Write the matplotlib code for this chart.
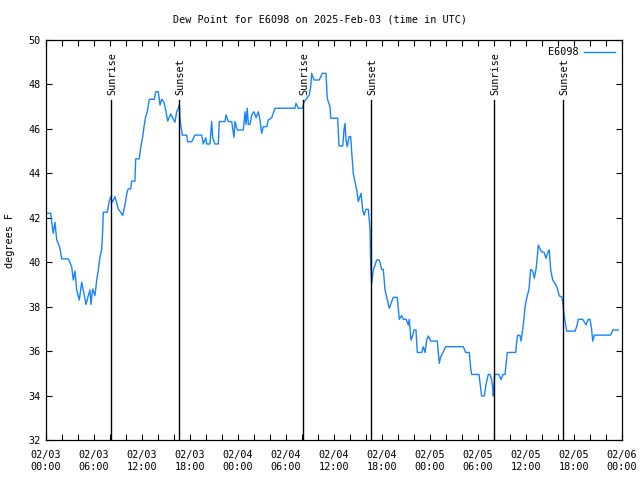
import numpy as np
import matplotlib
matplotlib.use("Agg")
import matplotlib.pyplot as plt

# dew point readings, hours since 2025-02-03 00:00 UTC
hours = [0.0, 0.59, 0.71, 0.91, 1.12, 1.34, 1.54, 1.75, 1.96, 2.79,
         3.21, 3.41, 3.62, 3.84, 4.16, 4.46, 4.66, 5.0, 5.29, 5.5,
         5.62, 5.84, 6.12, 6.34, 6.54, 6.75, 6.96, 7.09, 7.16, 7.66,
         7.88, 8.09, 8.29, 8.62, 9.04, 9.59, 9.88, 10.16, 10.29, 10.59,
         10.71, 11.12, 11.21, 11.66, 11.84, 12.09, 12.25, 12.46, 12.66, 12.91,
         13.54, 13.71, 14.04, 14.25, 14.46, 14.75, 15.0, 15.21, 15.59, 15.84,
         16.12, 16.34, 16.54, 16.66, 16.75, 17.04, 17.59, 17.71, 18.21, 18.62,
         19.46, 19.66, 19.96, 20.09, 20.5, 20.71, 20.84, 21.12, 21.54, 21.66,
         22.38, 22.5, 22.79, 23.21, 23.34, 23.5, 23.62, 23.91, 24.66, 24.88,
         25.0, 25.16, 25.29, 25.5, 25.71, 26.0, 26.25, 26.54, 26.75, 26.96,
         27.16, 27.59, 27.79, 28.21, 28.62, 31.12, 31.25, 31.54, 32.09, 32.25,
         32.59, 32.91, 33.09, 33.21, 33.5, 34.16, 34.54, 35.0, 35.16, 35.5,
         35.59, 36.46, 36.62, 37.09, 37.25, 37.38, 37.5, 37.66, 37.88, 38.09,
         38.21, 38.41, 38.62, 38.84, 39.04, 39.25, 39.38, 39.59, 39.75, 40.0,
         40.29, 40.5, 40.59, 40.71, 40.91, 41.34, 41.66, 41.96, 42.16, 42.38,
         42.59, 42.91, 43.21, 43.41, 43.91, 44.16, 44.46, 44.66, 45.0, 45.29,
         45.41, 45.62, 45.84, 46.0, 46.25, 46.41, 46.96, 47.16, 47.38, 47.59,
         47.79, 48.09, 48.91, 49.09, 49.16, 49.34, 49.66, 49.96, 52.16, 52.46,
         52.91, 53.09, 53.21, 54.12, 54.46, 54.79, 55.0, 55.29, 55.5, 55.71,
         55.84, 55.91, 56.09, 56.59, 56.88, 57.12, 57.38, 57.59, 57.66, 58.71,
         58.84, 58.96, 59.25, 59.38, 59.59, 59.75, 59.88, 60.09, 60.29, 60.41,
         60.5, 60.59, 60.84, 61.04, 61.25, 61.34, 61.54, 61.75, 61.96, 62.25,
         62.5, 62.79, 62.91, 63.09, 63.34, 63.62, 63.91, 64.16, 64.46, 64.59,
         64.75, 65.0, 65.09, 66.12, 66.34, 66.54, 67.09, 67.5, 67.79, 68.0,
         68.21, 68.34, 68.54, 70.59, 70.84, 71.54]
dewpt = [42.2, 42.2, 41.8, 41.3, 41.8, 41.0, 40.85, 40.6, 40.15, 40.15,
         39.8, 39.2, 39.6, 38.75, 38.3, 39.1, 38.75, 38.1, 38.5, 38.75,
         38.1, 38.8, 38.5, 39.2, 39.65, 40.25, 40.55, 41.45, 42.25, 42.25,
         42.7, 42.95, 42.7, 42.95, 42.4, 42.1, 42.6, 43.2, 43.3, 43.3,
         43.65, 43.65, 44.65, 44.65, 45.17, 45.65, 46.1, 46.55, 46.77, 47.33,
         47.33, 47.67, 47.67, 47.07, 47.33, 47.2, 46.77, 46.35, 46.67, 46.5,
         46.3, 46.77, 46.93, 47.07, 46.4, 45.72, 45.72, 45.42, 45.42, 45.72,
         45.72, 45.32, 45.6, 45.32, 45.32, 46.33, 45.6, 45.32, 45.32, 46.33,
         46.33, 46.63, 46.33, 46.33, 46.02, 45.62, 46.33, 45.95, 45.95, 46.77,
         46.2, 46.93, 46.2, 46.2, 46.63, 46.77, 46.5, 46.77, 46.4, 45.8,
         46.1, 46.1, 46.4, 46.5, 46.93, 46.93, 47.15, 46.93, 46.93, 47.22,
         47.37, 47.52, 47.9, 48.5, 48.2, 48.2, 48.5, 48.5, 47.37, 47.0,
         46.48, 46.48, 45.23, 45.23, 45.95, 46.25, 45.5, 45.2, 45.65, 45.65,
         44.97, 44.0, 43.62, 43.25, 42.73, 42.95, 43.1, 42.35, 42.12, 42.38,
         42.38, 41.52, 39.87, 39.05, 39.65, 40.1, 40.1, 39.68, 39.68, 38.75,
         38.42, 37.93, 38.22, 38.42, 38.42, 37.43, 37.6, 37.43, 37.43, 37.18,
         37.43, 36.5, 36.7, 36.95, 36.95, 35.94, 35.94, 36.2, 35.94, 36.5,
         36.68, 36.45, 36.45, 35.75, 35.45, 35.75, 35.97, 36.2, 36.2, 35.94,
         35.94, 35.22, 34.95, 34.95, 33.98, 33.98, 34.5, 34.95, 34.95, 34.7,
         34.32, 33.98, 34.95, 34.95, 34.72, 34.95, 34.95, 35.67, 35.94, 35.94,
         36.42, 36.72, 36.7, 36.45, 36.98, 37.47, 38.0, 38.38, 38.67, 38.9,
         39.35, 39.68, 39.6, 39.28, 39.68, 39.95, 40.77, 40.6, 40.47, 40.45,
         40.18, 40.5, 40.55, 39.65, 39.2, 39.05, 38.83, 38.48, 38.45, 38.22,
         37.62, 37.1, 36.9, 36.9, 37.1, 37.43, 37.43, 37.18, 37.43, 37.43,
         36.95, 36.45, 36.72, 36.72, 36.95, 36.95]

sun_hours = [8.12, 16.62, 32.1, 40.64, 56.06, 64.65]
sun_labels = ["Sunrise", "Sunset", "Sunrise", "Sunset", "Sunrise", "Sunset"]

tick_hours = list(range(0, 73, 6))
tick_labels = ["02/03\n00:00", "02/03\n06:00", "02/03\n12:00", "02/03\n18:00",
               "02/04\n00:00", "02/04\n06:00", "02/04\n12:00", "02/04\n18:00",
               "02/05\n00:00", "02/05\n06:00", "02/05\n12:00", "02/05\n18:00",
               "02/06\n00:00"]

plt.rcParams['font.family'] = 'DejaVu Sans Mono'
plt.rcParams['font.size'] = 7.3

fig = plt.figure(figsize=(6.4, 4.8), dpi=100)
ax = fig.add_axes([46/640, 40/480, 576/640, 400/480])

ax.plot(hours, dewpt, color='#1684ff', lw=1.0, label='E6098')

# sunrise / sunset markers
for h, lab in zip(sun_hours, sun_labels):
    ax.plot([h, h], [32, 47.3], color='black', lw=1.0)
    ax.text(h + 0.15, 47.52, lab, rotation=90, ha='center', va='bottom')

ax.set_xlim(0, 72)
ax.set_ylim(32, 50)
ax.set_xticks(tick_hours)
ax.set_xticklabels(tick_labels, linespacing=1.3)
ax.set_xticks(np.arange(0, 73, 2), minor=True)
ax.set_yticks(np.arange(32, 51, 2))
ax.tick_params(which='both', direction='in', top=True, right=True,
               length=4, width=0.8, pad=4)
ax.tick_params(axis='x', which='major', pad=7)
for s in ax.spines.values():
    s.set_linewidth(0.9)

fig.text(0.5, 1 - 19/480, 'Dew Point for E6098 on 2025-Feb-03 (time in UTC)',
         ha='center', va='center')
fig.text(10/640, 0.5, 'degrees F', rotation=90, ha='center', va='center')

ax.legend(loc='upper right', frameon=False, markerfirst=False,
          handlelength=3.0, handletextpad=0.6, borderaxespad=0.3)

fig.savefig('out.png', dpi=100)
